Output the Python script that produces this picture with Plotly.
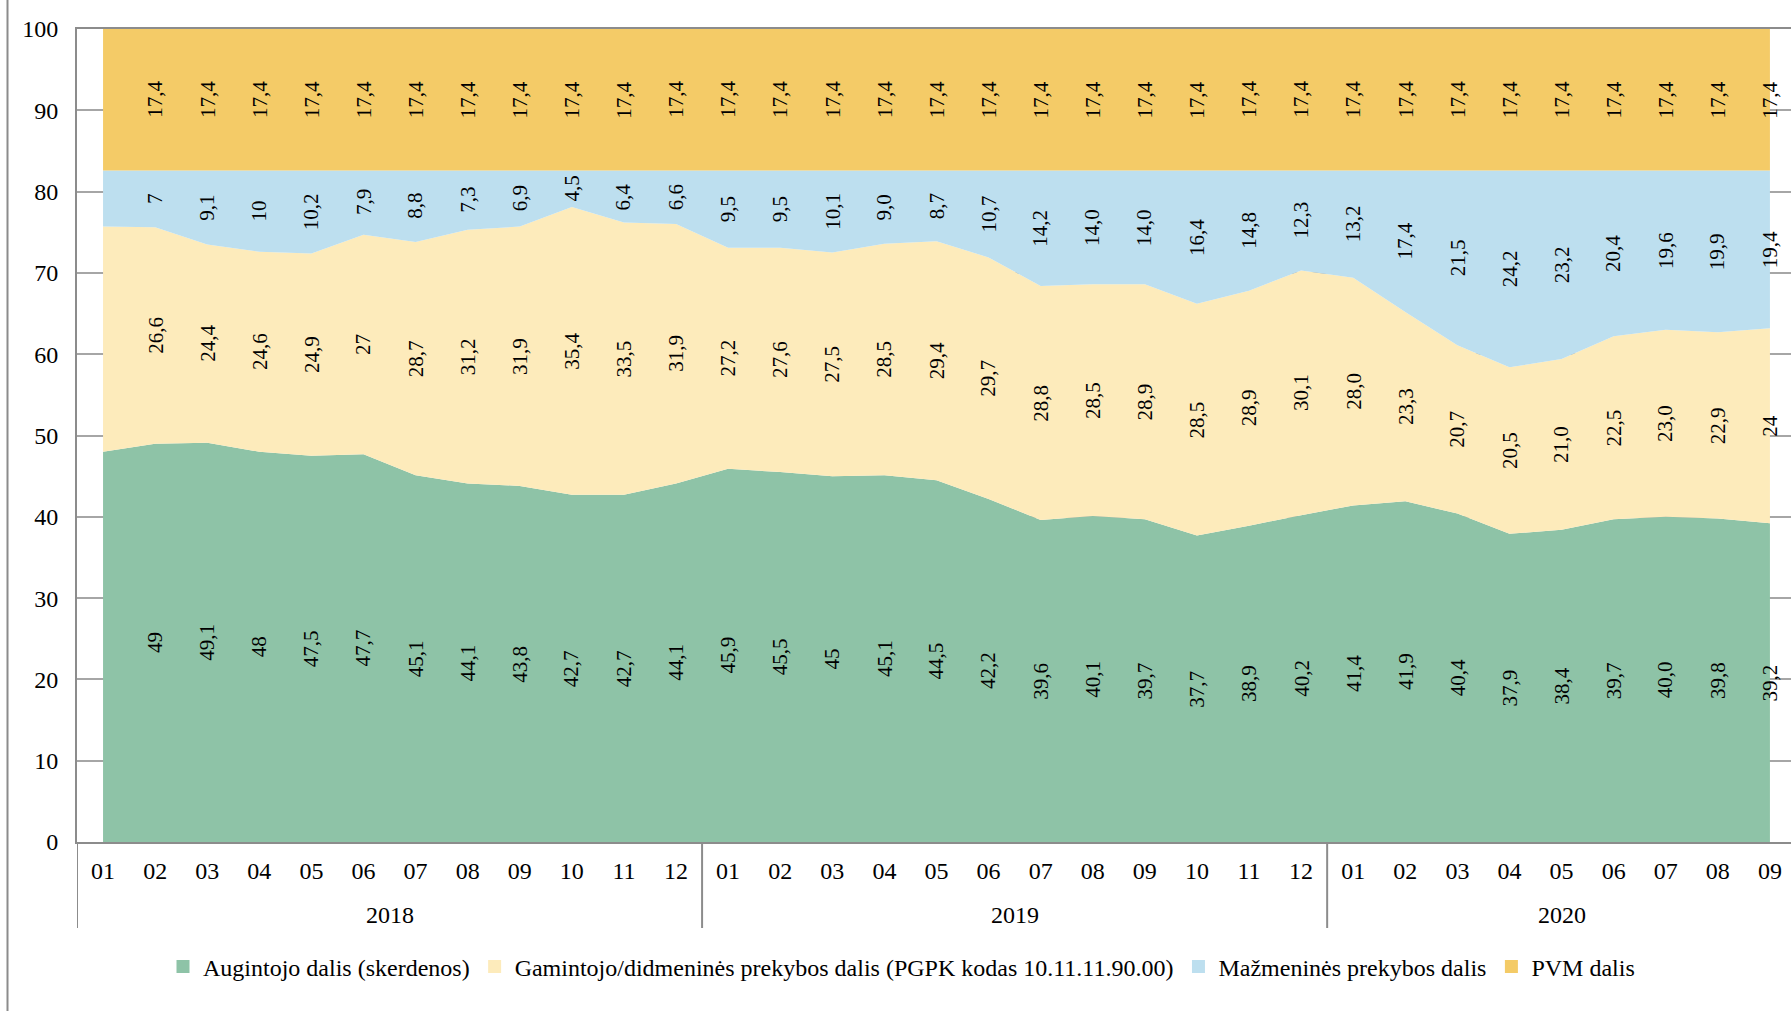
import plotly.graph_objects as go

# ---------------- data ----------------
years = ["2018", "2019", "2020"]
months_per_year = [12, 12, 9]
month_labels = (
    ["01", "02", "03", "04", "05", "06", "07", "08", "09", "10", "11", "12"]
    + ["01", "02", "03", "04", "05", "06", "07", "08", "09", "10", "11", "12"]
    + ["01", "02", "03", "04", "05", "06", "07", "08", "09"]
)

series_names = [
    "Augintojo dalis (skerdenos)",
    "Gamintojo/didmeninės prekybos dalis (PGPK kodas 10.11.11.90.00)",
    "Mažmeninės prekybos dalis",
    "PVM dalis",
]

# values as printed (Lithuanian decimal comma); the 2018-01 point carries no label
# in the original and is an estimate
grower = [
    "48,0", "49", "49,1", "48", "47,5", "47,7", "45,1", "44,1", "43,8", "42,7", "42,7", "44,1",
    "45,9", "45,5", "45", "45,1", "44,5", "42,2", "39,6", "40,1", "39,7", "37,7", "38,9", "40,2",
    "41,4", "41,9", "40,4", "37,9", "38,4", "39,7", "40,0", "39,8", "39,2",
]
producer = [
    "27,7", "26,6", "24,4", "24,6", "24,9", "27", "28,7", "31,2", "31,9", "35,4", "33,5", "31,9",
    "27,2", "27,6", "27,5", "28,5", "29,4", "29,7", "28,8", "28,5", "28,9", "28,5", "28,9", "30,1",
    "28,0", "23,3", "20,7", "20,5", "21,0", "22,5", "23,0", "22,9", "24",
]
retail = [
    "6,9", "7", "9,1", "10", "10,2", "7,9", "8,8", "7,3", "6,9", "4,5", "6,4", "6,6",
    "9,5", "9,5", "10,1", "9,0", "8,7", "10,7", "14,2", "14,0", "14,0", "16,4", "14,8", "12,3",
    "13,2", "17,4", "21,5", "24,2", "23,2", "20,4", "19,6", "19,9", "19,4",
]
vat = ["17,4"] * 33
LABELLED_FROM = 1  # first point has no data label

colors = ["#8EC3A7", "#FDEBBB", "#BDDFEF", "#F4CB67"]

# ---------------- figure ----------------
FONT = "Liberation Serif, Times New Roman, serif"
GREY = "#8C8C8C"


def num(s):
    return float(s.replace(",", "."))


x = list(range(len(month_labels)))
all_series = [grower, producer, retail, vat]

fig = go.Figure()
for name, ser, col in zip(series_names, all_series, colors):
    fig.add_trace(go.Scatter(
        x=x, y=[num(v) for v in ser], name=name, mode="none",
        stackgroup="one", fillcolor=col, showlegend=False,
        hoverinfo="name+y",
    ))
# legend swatches
for name, col in zip(series_names, colors):
    fig.add_trace(go.Scatter(
        x=[None], y=[None], name=name, mode="markers",
        marker=dict(symbol="square", size=13, color=col),
        showlegend=True,
    ))

annotations = []
base = [0.0] * len(x)
for ser in all_series:
    for i, v in enumerate(ser):
        val = num(v)
        if i >= LABELLED_FROM:
            annotations.append(dict(
                x=i, y=base[i] + val / 2, xref="x", yref="y", text=v,
                textangle=-90, showarrow=False,
                font=dict(family=FONT, size=21, color="black"),
                xanchor="center", yanchor="middle",
            ))
        base[i] += val

# year labels and dividers
PLOT_TOP, PLOT_BOTTOM = 29, 842
plot_h = PLOT_BOTTOM - PLOT_TOP
shapes = []
start = 0
bounds = [-0.5]
for yr, n in zip(years, months_per_year):
    annotations.append(dict(
        x=start + (n - 1) / 2, y=(PLOT_BOTTOM - 915) / plot_h, xref="x", yref="paper",
        text=yr, showarrow=False, font=dict(family=FONT, size=24, color="black"),
        xanchor="center", yanchor="middle",
    ))
    start += n
    bounds.append(start - 0.5)
for b in bounds:
    shapes.append(dict(
        type="line", xref="x", yref="paper", x0=b, x1=b,
        y0=0, y1=(PLOT_BOTTOM - 928) / plot_h,
        line=dict(color=GREY, width=2),
    ))
# outer frame line on the left
shapes.append(dict(
    type="line", xref="paper", yref="paper",
    x0=(7.5 - 77) / (1791 - 77), x1=(7.5 - 77) / (1791 - 77),
    y0=(PLOT_BOTTOM - 1011) / plot_h, y1=PLOT_BOTTOM / plot_h,
    line=dict(color=GREY, width=2),
))

step = 52.09
fig.update_layout(
    width=1791, height=1011,
    margin=dict(l=77, r=0, t=PLOT_TOP, b=1011 - PLOT_BOTTOM, pad=0),
    paper_bgcolor="white", plot_bgcolor="white",
    font=dict(family=FONT, size=24, color="black"),
    showlegend=True,
    legend=dict(
        orientation="h", xref="container", yref="container",
        x=163 / 1791, y=(1011 - 967) / 1011, xanchor="left", yanchor="middle",
        font=dict(family=FONT, size=24, color="black"),
        bgcolor="rgba(0,0,0,0)", traceorder="normal",
    ),
    xaxis=dict(
        range=[-0.5, -0.5 + (1791 - 77) / step],
        tickmode="array", tickvals=x, ticktext=month_labels,
        showgrid=False, zeroline=False, ticks="",
        showline=True, linecolor=GREY, linewidth=2, mirror=True,
        tickfont=dict(family=FONT, size=24, color="black"),
        ticklabelstandoff=6,
    ),
    yaxis=dict(
        range=[0, 100], dtick=10, tick0=0,
        showgrid=True, gridcolor="#A6A6A6", gridwidth=1.5,
        zeroline=False, ticks="",
        showline=True, linecolor=GREY, linewidth=2,
        tickfont=dict(family=FONT, size=24, color="black"),
        ticklabelstandoff=12,
    ),
    annotations=annotations,
    shapes=shapes,
)

fig.write_html(
    "out.html",
    config={"displayModeBar": False},
    post_script="document.body.style.margin='0';document.body.style.overflow='hidden';",
)
